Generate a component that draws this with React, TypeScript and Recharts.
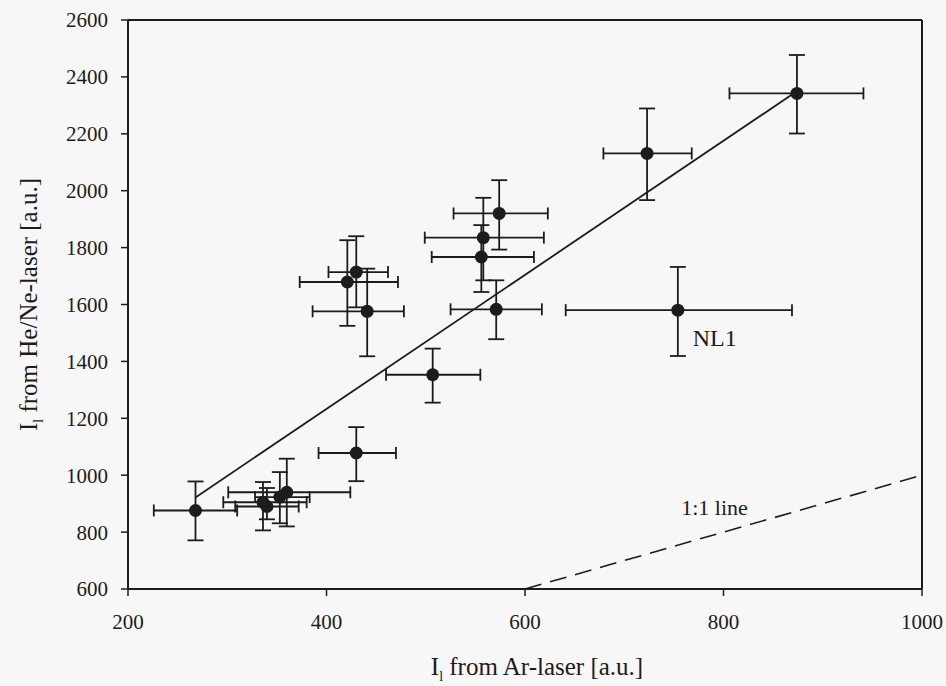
import React from 'react';
import {
  ComposedChart,
  Scatter,
  XAxis,
  YAxis,
  ErrorBar,
  ReferenceLine,
  ReferenceDot,
  Label,
} from 'recharts';

// Measured points: I_l from Ar-laser (x) vs I_l from He/Ne-laser (y)
const xValues = [268, 336, 340, 353, 360, 421, 430, 441, 430, 507, 556, 558, 574, 571, 754, 723, 874];
const yValues = [876, 905, 890, 923, 940, 1679, 1714, 1576, 1078, 1353, 1767, 1835, 1920, 1583, 1580, 2131, 2342];
const xLow = [226, 296, 308, 328, 301, 373, 402, 386, 392, 460, 506, 499, 528, 525, 641, 679, 806];
const xHigh = [310, 380, 372, 383, 424, 472, 462, 478, 470, 555, 609, 619, 623, 617, 869, 768, 941];
const yLow = [771, 806, 845, 831, 820, 1525, 1590, 1418, 979, 1255, 1644, 1685, 1793, 1478, 1419, 1967, 2201];
const yHigh = [978, 976, 955, 1011, 1058, 1826, 1840, 1726, 1169, 1445, 1879, 1975, 2037, 1685, 1732, 2289, 2477];

// Fitted line and 1:1 line end points
const fitX = [268, 872];
const fitY = [922, 2345];
const unityX = [600, 1000];
const unityY = [600, 1000];

// Annotations
const noteText = ['NL1', '1:1 line'];
const noteX = [769, 791];
const noteY = [1481, 887];
const noteAnchor = ['start', 'middle'];
const noteSize = [24, 22];

// Axes
const xDomain = [200, 1000];
const yDomain = [600, 2600];
const xTicks = [200, 400, 600, 800, 1000];
const yTicks = [600, 800, 1000, 1200, 1400, 1600, 1800, 2000, 2200, 2400, 2600];

const rows = xValues.map((x, i) => ({
  x,
  y: yValues[i],
  ex: [x - xLow[i], xHigh[i] - x],
  ey: [yValues[i] - yLow[i], yHigh[i] - yValues[i]],
}));

const INK = '#1c1c1c';
const FONT = '"Liberation Serif", "DejaVu Serif", serif';

const Dot = (props: any) => {
  const { cx, cy } = props;
  if (cx == null || cy == null) return null;
  return <circle cx={cx} cy={cy} r={6.5} fill={INK} />;
};

const XTitle = (props: any) => {
  const vb = props.viewBox || {};
  const x = vb.x + vb.width / 2 + 12;
  const y = vb.y + 86;
  return (
    <text x={x} y={y} textAnchor="middle" fontFamily={FONT} fontSize={25} fill={INK}>
      I<tspan fontSize={14} dy={6}>l</tspan>
      <tspan dy={-6}> from Ar-laser [a.u.]</tspan>
    </text>
  );
};

const YTitle = (props: any) => {
  const vb = props.viewBox || {};
  const x = vb.x + 37;
  const y = vb.y + vb.height / 2;
  return (
    <text
      x={x}
      y={y}
      textAnchor="middle"
      transform={`rotate(-90, ${x}, ${y})`}
      fontFamily={FONT}
      fontSize={25}
      fill={INK}
    >
      I<tspan fontSize={14} dy={6}>l</tspan>
      <tspan dy={-6}> from He/Ne-laser [a.u.]</tspan>
    </text>
  );
};

const makeNote = (i: number) => (props: any) => {
  const vb = props.viewBox || {};
  const x = vb.x + (vb.width || 0) / 2;
  const y = vb.y + (vb.height || 0) / 2;
  return (
    <text
      x={x}
      y={y}
      textAnchor={noteAnchor[i] as any}
      dominantBaseline="central"
      fontFamily={FONT}
      fontSize={noteSize[i]}
      fill={INK}
    >
      {noteText[i]}
    </text>
  );
};

export default function App() {
  return (
    <div style={{ position: 'absolute', left: 0, top: 0, width: 946, height: 686, background: '#f7f7f7' }}>
      <ComposedChart
        width={946}
        height={686}
        data={rows}
        margin={{ top: 20, right: 24, left: 0, bottom: 0 }}
      >
        <XAxis
          dataKey="x"
          type="number"
          domain={xDomain}
          ticks={xTicks}
          allowDataOverflow
          height={97}
          axisLine={{ stroke: INK, strokeWidth: 2 }}
          tickLine={{ stroke: INK, strokeWidth: 1.5 }}
          tickSize={7}
          tickMargin={18}
          tick={{ fill: INK, fontFamily: FONT, fontSize: 21 }}
        >
          <Label content={XTitle} />
        </XAxis>
        <YAxis
          dataKey="y"
          type="number"
          domain={yDomain}
          ticks={yTicks}
          allowDataOverflow
          width={128}
          axisLine={{ stroke: INK, strokeWidth: 2 }}
          tickLine={{ stroke: INK, strokeWidth: 1.5 }}
          tickSize={7}
          tickMargin={13}
          tick={{ fill: INK, fontFamily: FONT, fontSize: 21 }}
        >
          <Label content={YTitle} />
        </YAxis>
        <ReferenceLine y={yDomain[1]} stroke={INK} strokeWidth={2} />
        <ReferenceLine x={xDomain[1]} stroke={INK} strokeWidth={2} />
        <ReferenceLine
          segment={[
            { x: unityX[0], y: unityY[0] },
            { x: unityX[1], y: unityY[1] },
          ]}
          stroke={INK}
          strokeWidth={1.6}
          strokeDasharray="17 9"
        />
        <ReferenceLine
          segment={[
            { x: fitX[0], y: fitY[0] },
            { x: fitX[1], y: fitY[1] },
          ]}
          stroke={INK}
          strokeWidth={1.8}
        />
        <Scatter dataKey="y" fill={INK} shape={<Dot />} isAnimationActive={false}>
          <ErrorBar dataKey="ex" direction="x" width={6} stroke={INK} strokeWidth={1.8} />
          <ErrorBar dataKey="ey" direction="y" width={8} stroke={INK} strokeWidth={1.8} />
        </Scatter>
        {noteText.map((t, i) => (
          <ReferenceDot
            key={t}
            x={noteX[i]}
            y={noteY[i]}
            r={0}
            fill="none"
            stroke="none"
            label={makeNote(i)}
          />
        ))}
      </ComposedChart>
    </div>
  );
}
